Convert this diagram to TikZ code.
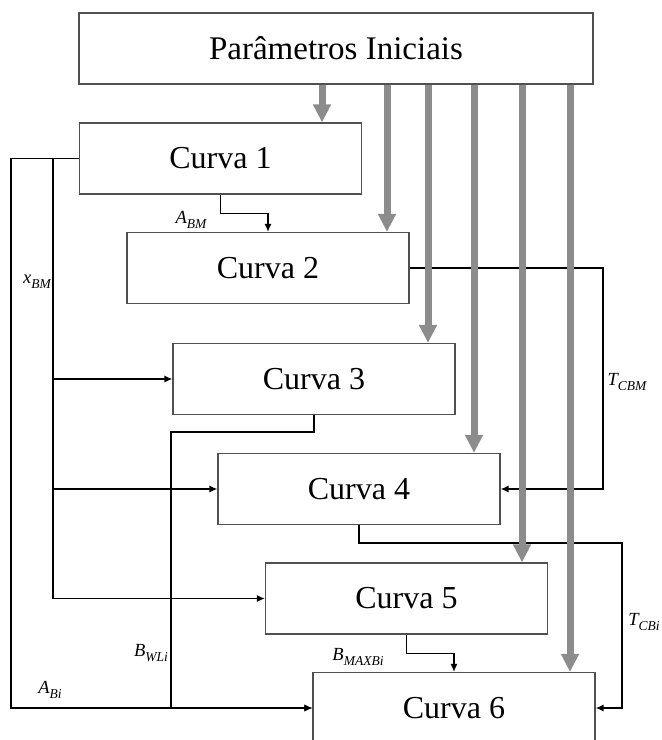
\documentclass[tikz,border=0pt]{standalone}
\usepackage{fontspec}
\setmainfont{Liberation Serif}
\usetikzlibrary{arrows.meta}
\definecolor{boxline}{RGB}{80,80,80}
\definecolor{feed}{RGB}{140,140,140}
% italic symbol with an italic subscript
\newcommand{\symsub}[2]{{\fontsize{18.5}{18.5}\selectfont\itshape #1\raisebox{-4.5pt}{\fontsize{13.5}{13.5}\selectfont #2}}}
\begin{document}
\begin{tikzpicture}[x=1pt,y=-1pt,
  curve/.style={draw=boxline,line width=1.2pt,fill=white,minimum width=282pt,
    minimum height=71pt,inner sep=0pt,font=\fontsize{32}{32}\selectfont},
  link/.style={draw=black,line width=1.3pt},
  linkarrow/.style={link,-{Latex[length=8pt,width=7pt]}},
  feedarrow/.style={draw=feed,line width=7pt,-{Triangle[length=18pt,width=17pt]}},
  lbl/.style={inner sep=0pt}]
\useasboundingbox (0,0) rectangle (662,740);

% blocks
\node[curve,minimum width=514pt,font=\fontsize{33}{33}\selectfont] (P) at (336,48.5) {Parâmetros Iniciais};
\node[curve] (C1) at (220.5,158.5) {Curva 1};
\node[curve] (C2) at (268,268) {Curva 2};
\node[curve] (C3) at (314,379) {Curva 3};
\node[curve] (C4) at (359,489) {Curva 4};
\node[curve] (C5) at (406.5,598.5) {Curva 5};
\node[curve] (C6) at (454,708) {Curva 6};

% routing columns
\coordinate (outer) at (11,0);
\coordinate (inner) at (53,0);
\coordinate (bwl) at (171,0);
\coordinate (tcbm) at (603,0);
\coordinate (tcbi) at (622,0);

% signal connectors
\draw[linkarrow] (C1.south) -- ++(0,19) -| (C2.north);
\draw[linkarrow] (C1.west) -| (outer |- C6.west) -- (C6.west);
\draw[link] (inner |- C1.west) -- (inner |- C5.west);
\draw[linkarrow] (inner |- C3.west) -- (C3.west);
\draw[linkarrow] (inner |- C4.west) -- (C4.west);
\draw[linkarrow] (inner |- C5.west) -- (C5.west);
\draw[linkarrow] (C2.east) -| (tcbm |- C4.east) -- (C4.east);
\draw[linkarrow] (C3.south) -- ++(0,17) -| (bwl |- C6.west) -- (C6.west);
\draw[linkarrow] (C4.south) -- ++(0,18) -| (tcbi |- C6.east) -- (C6.east);
\draw[linkarrow] (C5.south) -- ++(0,19) -| (C6.north);

% parameter feeds
\draw[feedarrow] (322,0 |- P.south) -- (322,0 |- C1.north);
\draw[feedarrow] (387,0 |- P.south) -- (387,0 |- C2.north);
\draw[feedarrow] (428,0 |- P.south) -- (428,0 |- C3.north);
\draw[feedarrow] (474,0 |- P.south) -- (474,0 |- C4.north);
\draw[feedarrow] (522,0 |- P.south) -- (522,0 |- C5.north);
\draw[feedarrow] (570,0 |- P.south) -- (570,0 |- C6.north);

% labels
\node[lbl] (lABM) at (191,220) {\symsub{A}{BM}};
\node[lbl] (lxBM) at (37,282) {\symsub{x}{BM}};
\node[lbl] (lTCBM) at (627,382) {\symsub{T}{CBM}};
\node[lbl] (lBWLi) at (151,653) {\symsub{B}{WLi}};
\node[lbl] (lBMAX) at (358,657) {\symsub{B}{MAXBi}};
\node[lbl] (lABi) at (50,690) {\symsub{A}{Bi}};
\node[lbl] (lTCBi) at (644,622) {\symsub{T}{CBi}};
\end{tikzpicture}
\end{document}
